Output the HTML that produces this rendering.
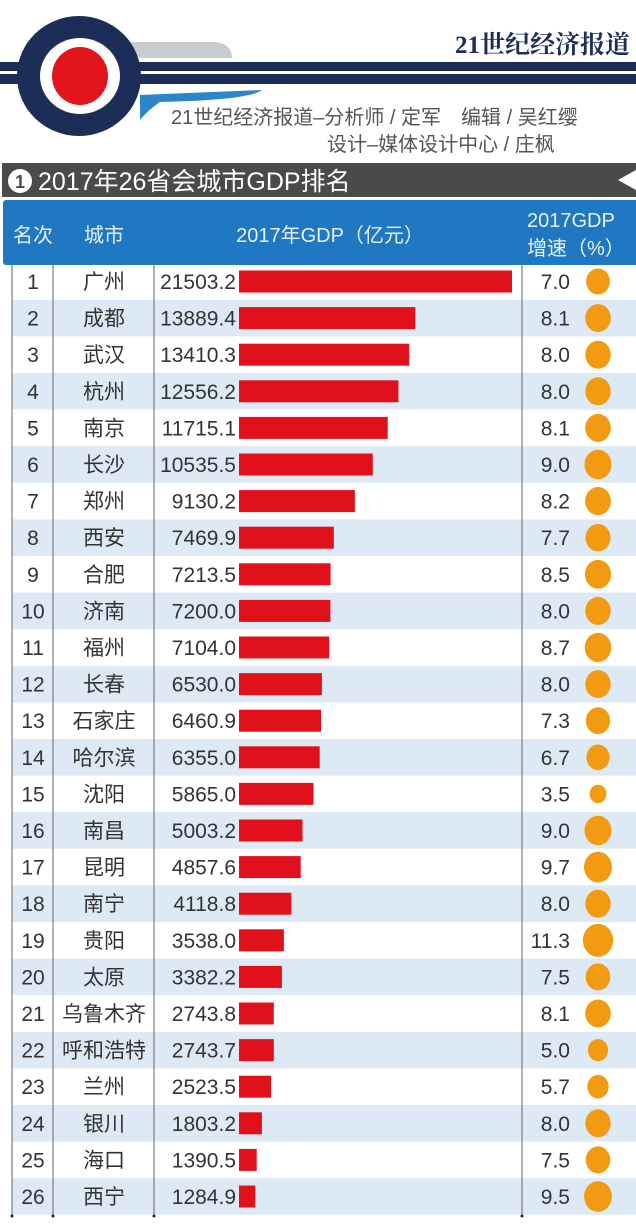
<!DOCTYPE html>
<html><head><meta charset="utf-8"><style>
body{margin:0;background:#fff;width:636px;height:1228px;overflow:hidden}
svg{display:block}
text{font-family:"Liberation Sans","Noto Sans CJK SC",sans-serif}
</style></head><body>
<svg width="636" height="1228" viewBox="0 0 636 1228" xmlns="http://www.w3.org/2000/svg">
<rect width="636" height="1228" fill="#fff"/>
<path d="M120 42 L215 42 Q232 44 232 58 L140 58 Z" fill="#c9ccd0"/>
<path d="M140 95 L262 90 Q250 100 160 102 Q148 110 140 120 Z" fill="#2a86c8"/>
<rect x="0" y="62" width="636" height="22" fill="#1c2e57"/>
<rect x="0" y="71" width="636" height="3" fill="#fff"/>
<ellipse cx="79" cy="76" rx="62" ry="60" fill="#1c2e57"/>
<ellipse cx="80" cy="76" rx="40" ry="38" fill="#fff"/>
<ellipse cx="80" cy="76" rx="28" ry="29" fill="#e2151c"/>
<text x="455" y="53" font-size="25" font-weight="bold" fill="#1c2e57" style="font-family:'Liberation Serif','Noto Serif CJK SC',serif">21世纪经济报道</text>
<text x="171" y="124" font-size="20" fill="#555">21世纪经济报道–分析师 / 定军　编辑 / 吴红缨</text>
<text x="327" y="151" font-size="20" fill="#555">设计–媒体设计中心 / 庄枫</text>
<rect x="2" y="163" width="634" height="34" fill="#4a4a4a"/>
<circle cx="20" cy="181" r="12" fill="#fff"/>
<text x="20" y="188" font-size="18" font-weight="bold" fill="#4a4a4a" text-anchor="middle">1</text>
<text x="38" y="190" font-size="25" fill="#fff">2017年26省会城市GDP排名</text>
<path d="M636 170 L618 180 L636 190 Z" fill="#fff"/>
<rect x="3" y="200" width="640" height="65" rx="3" fill="#1f78c1"/>
<g fill="#e8f0fa" font-size="20">
<text x="33" y="242" text-anchor="middle">名次</text>
<text x="104" y="242" text-anchor="middle">城市</text>
<text x="330" y="242" text-anchor="middle">2017年GDP（亿元）</text>
<text x="527" y="227">2017GDP</text>
<text x="527" y="255">增速（%）</text>
</g>
<g fill="#dde9f5">
<rect x="12" y="299.8" width="624" height="36.6"/><rect x="12" y="373" width="624" height="36.6"/><rect x="12" y="446.2" width="624" height="36.6"/><rect x="12" y="519.4" width="624" height="36.6"/><rect x="12" y="592.6" width="624" height="36.6"/><rect x="12" y="665.8" width="624" height="36.6"/><rect x="12" y="739" width="624" height="36.6"/><rect x="12" y="812.2" width="624" height="36.6"/><rect x="12" y="885.4" width="624" height="36.6"/><rect x="12" y="958.6" width="624" height="36.6"/><rect x="12" y="1031.8" width="624" height="36.6"/><rect x="12" y="1105" width="624" height="36.6"/><rect x="12" y="1178.2" width="624" height="36.6"/>
</g>
<g stroke="#666" stroke-width="1">
<line x1="12" y1="265" x2="12" y2="1215"/><line x1="53" y1="265" x2="53" y2="1215"/><line x1="154" y1="265" x2="154" y2="1215"/><line x1="522" y1="265" x2="522" y2="1215"/>
</g>
<g fill="#222"><circle cx="12" cy="1216" r="1.5"/><circle cx="53" cy="1216" r="1.5"/><circle cx="154" cy="1216" r="1.5"/><circle cx="522" cy="1216" r="1.5"/></g>
<g fill="#e1111b">
<rect x="239" y="270.5" width="273" height="22"/><rect x="239" y="307.1" width="176.3" height="22"/><rect x="239" y="343.7" width="170.3" height="22"/><rect x="239" y="380.3" width="159.4" height="22"/><rect x="239" y="416.9" width="148.7" height="22"/><rect x="239" y="453.5" width="133.8" height="22"/><rect x="239" y="490.1" width="115.9" height="22"/><rect x="239" y="526.7" width="94.8" height="22"/><rect x="239" y="563.3" width="91.6" height="22"/><rect x="239" y="599.9" width="91.4" height="22"/><rect x="239" y="636.5" width="90.2" height="22"/><rect x="239" y="673.1" width="82.9" height="22"/><rect x="239" y="709.7" width="82" height="22"/><rect x="239" y="746.3" width="80.7" height="22"/><rect x="239" y="782.9" width="74.5" height="22"/><rect x="239" y="819.5" width="63.5" height="22"/><rect x="239" y="856.1" width="61.7" height="22"/><rect x="239" y="892.7" width="52.3" height="22"/><rect x="239" y="929.3" width="44.9" height="22"/><rect x="239" y="965.9" width="42.9" height="22"/><rect x="239" y="1002.5" width="34.8" height="22"/><rect x="239" y="1039.1" width="34.8" height="22"/><rect x="239" y="1075.7" width="32" height="22"/><rect x="239" y="1112.3" width="22.9" height="22"/><rect x="239" y="1148.9" width="17.7" height="22"/><rect x="239" y="1185.5" width="16.3" height="22"/>
</g>
<g fill="#f29b12">
<ellipse cx="598" cy="281.5" rx="11.9" ry="13"/><ellipse cx="598" cy="318.1" rx="12.8" ry="14"/><ellipse cx="598" cy="354.7" rx="12.7" ry="14"/><ellipse cx="598" cy="391.3" rx="12.7" ry="14"/><ellipse cx="598" cy="427.9" rx="12.8" ry="14"/><ellipse cx="598" cy="464.5" rx="13.5" ry="14.8"/><ellipse cx="598" cy="501.1" rx="12.9" ry="14.1"/><ellipse cx="598" cy="537.7" rx="12.5" ry="13.7"/><ellipse cx="598" cy="574.3" rx="13.1" ry="14.4"/><ellipse cx="598" cy="610.9" rx="12.7" ry="14"/><ellipse cx="598" cy="647.5" rx="13.3" ry="14.6"/><ellipse cx="598" cy="684.1" rx="12.7" ry="14"/><ellipse cx="598" cy="720.7" rx="12.2" ry="13.4"/><ellipse cx="598" cy="757.3" rx="11.6" ry="12.8"/><ellipse cx="598" cy="793.9" rx="8.4" ry="9.2"/><ellipse cx="598" cy="830.5" rx="13.5" ry="14.8"/><ellipse cx="598" cy="867.1" rx="14" ry="15.4"/><ellipse cx="598" cy="903.7" rx="12.7" ry="14"/><ellipse cx="598" cy="940.3" rx="15.1" ry="16.6"/><ellipse cx="598" cy="976.9" rx="12.3" ry="13.5"/><ellipse cx="598" cy="1013.5" rx="12.8" ry="14"/><ellipse cx="598" cy="1050.1" rx="10.1" ry="11.1"/><ellipse cx="598" cy="1086.7" rx="10.7" ry="11.8"/><ellipse cx="598" cy="1123.3" rx="12.7" ry="14"/><ellipse cx="598" cy="1159.9" rx="12.3" ry="13.5"/><ellipse cx="598" cy="1196.5" rx="13.9" ry="15.3"/>
</g>
<g font-size="21" fill="#333">
<g text-anchor="middle">
<text x="33" y="289">1</text><text x="33" y="325.6">2</text><text x="33" y="362.2">3</text><text x="33" y="398.8">4</text><text x="33" y="435.4">5</text><text x="33" y="472">6</text><text x="33" y="508.6">7</text><text x="33" y="545.2">8</text><text x="33" y="581.8">9</text><text x="33" y="618.4">10</text><text x="33" y="655">11</text><text x="33" y="691.6">12</text><text x="33" y="728.2">13</text><text x="33" y="764.8">14</text><text x="33" y="801.4">15</text><text x="33" y="838">16</text><text x="33" y="874.6">17</text><text x="33" y="911.2">18</text><text x="33" y="947.8">19</text><text x="33" y="984.4">20</text><text x="33" y="1021">21</text><text x="33" y="1057.6">22</text><text x="33" y="1094.2">23</text><text x="33" y="1130.8">24</text><text x="33" y="1167.4">25</text><text x="33" y="1204">26</text>
<text x="104" y="289">广州</text><text x="104" y="325.6">成都</text><text x="104" y="362.2">武汉</text><text x="104" y="398.8">杭州</text><text x="104" y="435.4">南京</text><text x="104" y="472">长沙</text><text x="104" y="508.6">郑州</text><text x="104" y="545.2">西安</text><text x="104" y="581.8">合肥</text><text x="104" y="618.4">济南</text><text x="104" y="655">福州</text><text x="104" y="691.6">长春</text><text x="104" y="728.2">石家庄</text><text x="104" y="764.8">哈尔滨</text><text x="104" y="801.4">沈阳</text><text x="104" y="838">南昌</text><text x="104" y="874.6">昆明</text><text x="104" y="911.2">南宁</text><text x="104" y="947.8">贵阳</text><text x="104" y="984.4">太原</text><text x="104" y="1021">乌鲁木齐</text><text x="104" y="1057.6">呼和浩特</text><text x="104" y="1094.2">兰州</text><text x="104" y="1130.8">银川</text><text x="104" y="1167.4">海口</text><text x="104" y="1204">西宁</text>
</g>
<g text-anchor="end">
<text x="236" y="289">21503.2</text><text x="236" y="325.6">13889.4</text><text x="236" y="362.2">13410.3</text><text x="236" y="398.8">12556.2</text><text x="236" y="435.4">11715.1</text><text x="236" y="472">10535.5</text><text x="236" y="508.6">9130.2</text><text x="236" y="545.2">7469.9</text><text x="236" y="581.8">7213.5</text><text x="236" y="618.4">7200.0</text><text x="236" y="655">7104.0</text><text x="236" y="691.6">6530.0</text><text x="236" y="728.2">6460.9</text><text x="236" y="764.8">6355.0</text><text x="236" y="801.4">5865.0</text><text x="236" y="838">5003.2</text><text x="236" y="874.6">4857.6</text><text x="236" y="911.2">4118.8</text><text x="236" y="947.8">3538.0</text><text x="236" y="984.4">3382.2</text><text x="236" y="1021">2743.8</text><text x="236" y="1057.6">2743.7</text><text x="236" y="1094.2">2523.5</text><text x="236" y="1130.8">1803.2</text><text x="236" y="1167.4">1390.5</text><text x="236" y="1204">1284.9</text>
<text x="570" y="289">7.0</text><text x="570" y="325.6">8.1</text><text x="570" y="362.2">8.0</text><text x="570" y="398.8">8.0</text><text x="570" y="435.4">8.1</text><text x="570" y="472">9.0</text><text x="570" y="508.6">8.2</text><text x="570" y="545.2">7.7</text><text x="570" y="581.8">8.5</text><text x="570" y="618.4">8.0</text><text x="570" y="655">8.7</text><text x="570" y="691.6">8.0</text><text x="570" y="728.2">7.3</text><text x="570" y="764.8">6.7</text><text x="570" y="801.4">3.5</text><text x="570" y="838">9.0</text><text x="570" y="874.6">9.7</text><text x="570" y="911.2">8.0</text><text x="570" y="947.8">11.3</text><text x="570" y="984.4">7.5</text><text x="570" y="1021">8.1</text><text x="570" y="1057.6">5.0</text><text x="570" y="1094.2">5.7</text><text x="570" y="1130.8">8.0</text><text x="570" y="1167.4">7.5</text><text x="570" y="1204">9.5</text>
</g>
</g>
</svg>
</body></html>
